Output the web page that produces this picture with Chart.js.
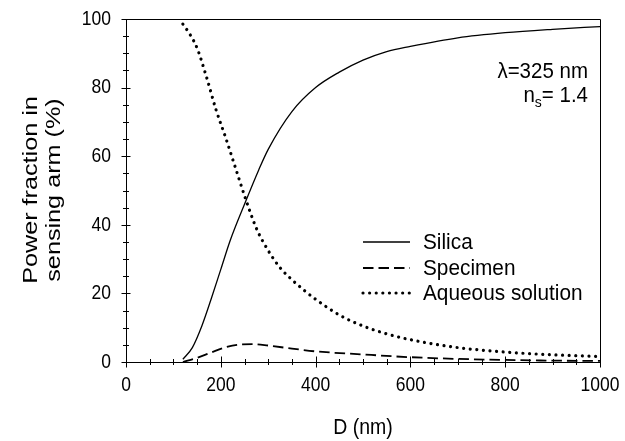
<!DOCTYPE html>
<html>
<head>
<meta charset="utf-8">
<script src="https://cdn.jsdelivr.net/npm/chart.js@4"></script>
<style>
  html, body { margin: 0; padding: 0; background: #fff; }
  #wrap { width: 625px; height: 441px; }
</style>
</head>
<body>
<div id="wrap"><canvas id="chart"></canvas></div>
<script>
// values
const silicaD = [120, 140, 160, 180, 200, 220, 250, 280, 300, 350, 400, 450, 500, 550, 600, 700, 800, 900, 1000];
const silicaP = [0.8, 4.2, 10.5, 18.5, 27, 35.5, 46, 56, 62, 73, 80, 84.5, 88, 90.5, 92, 94.5, 96, 97, 97.8];

const specimenD = [120, 150, 180, 210, 240, 270, 300, 350, 400, 500, 600, 700, 800, 900, 1000];
const specimenP = [0, 1.2, 2.8, 4.3, 5.1, 5.2, 4.8, 3.9, 3.1, 2.2, 1.4, 0.9, 0.6, 0.4, 0.3];

const aqueousD = [120, 135, 150, 170, 190, 210, 230, 250, 275, 300, 325, 350, 375, 400, 450, 500, 550, 600, 700, 800, 900, 1000];
const aqueousP = [98.5, 95.5, 91.5, 83, 73.5, 65.5, 57, 48.5, 39, 32.5, 27.5, 24, 21, 18.3, 13.7, 10.5, 8.2, 6.5, 4.2, 2.9, 2.1, 1.6];

const xTicks = [0, 200, 400, 600, 800, 1000];
const yTicks = [0, 20, 40, 60, 80, 100];
const seriesNames = ['Silica', 'Specimen', 'Aqueous solution'];

const FONT = "'Liberation Sans', Arial, sans-serif";
const pts = (xs, ys) => xs.map((x, i) => ({ x, y: ys[i] }));

// the source picture is a bit taller than wide, so text is stretched vertically
function tallText(ctx, text, x, y, size, align, sy) {
  ctx.save();
  ctx.translate(x, y);
  ctx.scale(1, sy);
  ctx.font = `${size}px ${FONT}`;
  ctx.textAlign = align;
  ctx.textBaseline = 'middle';
  ctx.fillText(text, 0, 0);
  ctx.restore();
}

// crossing ticks, frame, tick labels, legend, notes
const decor = {
  id: 'decor',
  afterDraw(chart) {
    const { ctx, chartArea: a, scales: { x, y } } = chart;
    ctx.save();
    ctx.strokeStyle = '#000';
    ctx.fillStyle = '#000';
    ctx.lineWidth = 1;
    ctx.beginPath();
    ctx.rect(a.left + 0.5, a.top + 0.5, a.right - a.left, a.bottom - a.top);
    ctx.stroke();

    ctx.beginPath();
    for (let v = 0; v <= 1000; v += 50) {
      const px = Math.round(x.getPixelForValue(v)) + 0.5;
      const len = v % 200 === 0 ? 5.5 : 3;
      ctx.moveTo(px, a.bottom - len);
      ctx.lineTo(px, a.bottom + len);
    }
    for (let v = 0; v <= 100; v += 5) {
      const py = Math.round(y.getPixelForValue(v)) + 0.5;
      const len = v % 20 === 0 ? 4.5 : 3;
      ctx.moveTo(a.left - len, py);
      ctx.lineTo(a.left + len, py);
    }
    ctx.stroke();

    xTicks.forEach(v => tallText(ctx, String(v), x.getPixelForValue(v), 385, 17.5, 'center', 1.2));
    yTicks.forEach(v => tallText(ctx, String(v), 111, y.getPixelForValue(v), 17.5, 'right', 1.2));

    // axis titles
    tallText(ctx, 'D (nm)', (a.left + a.right) / 2, 428, 19.5, 'center', 1.15);
    ctx.save();
    ctx.translate(31, 190);
    ctx.rotate(-Math.PI / 2);
    ctx.scale(1.2, 1);
    ctx.font = `21px ${FONT}`;
    ctx.textAlign = 'center';
    ctx.textBaseline = 'middle';
    ctx.fillText('Power fraction in', 0, 0);
    ctx.fillText('sensing arm (%)', 0, 23);
    ctx.restore();

    // legend
    const rows = [242, 268, 293];
    chart.data.datasets.forEach((ds, i) => {
      ctx.save();
      ctx.strokeStyle = ds.borderColor;
      ctx.lineWidth = ds.borderWidth;
      ctx.setLineDash(ds.borderDash || []);
      ctx.lineCap = ds.borderCapStyle || 'butt';
      ctx.beginPath();
      ctx.moveTo(363, rows[i]);
      ctx.lineTo(410, rows[i]);
      ctx.stroke();
      ctx.restore();
      tallText(ctx, ds.label, 423, rows[i] + 1, 20.8, 'left', 1.1);
    });

    // annotation
    tallText(ctx, '\u03bb=325 nm', 588, 72, 20.5, 'right', 1.1);
    const rest = '= 1.4';
    tallText(ctx, rest, 588, 96, 20.5, 'right', 1.1);
    ctx.font = `20.5px ${FONT}`;
    const wRest = ctx.measureText(rest).width;
    tallText(ctx, 's', 588 - wRest, 103, 14, 'right', 1.1);
    ctx.font = `14px ${FONT}`;
    const wS = ctx.measureText('s').width;
    tallText(ctx, 'n', 588 - wRest - wS, 96, 20.5, 'right', 1.1);
    ctx.restore();
  }
};

new Chart(document.getElementById('chart'), {
  type: 'scatter',
  data: {
    datasets: [
      {
        label: seriesNames[0],
        data: pts(silicaD, silicaP),
        showLine: true,
        borderColor: '#000',
        borderWidth: 1.3,
        pointRadius: 0,
        cubicInterpolationMode: 'monotone'
      },
      {
        label: seriesNames[1],
        data: pts(specimenD, specimenP),
        showLine: true,
        borderColor: '#000',
        borderWidth: 1.8,
        borderDash: [10.5, 5],
        pointRadius: 0,
        cubicInterpolationMode: 'monotone'
      },
      {
        label: seriesNames[2],
        data: pts(aqueousD, aqueousP),
        showLine: true,
        borderColor: '#000',
        borderWidth: 3.2,
        borderDash: [0.01, 6.6],
        borderCapStyle: 'round',
        pointRadius: 0,
        cubicInterpolationMode: 'monotone'
      }
    ]
  },
  options: {
    responsive: true,
    maintainAspectRatio: false,
    animation: false,
    layout: { padding: { top: 19, right: 25, left: 0, bottom: 0 } },
    plugins: { legend: { display: false }, tooltip: { enabled: false } },
    scales: {
      x: {
        type: 'linear',
        min: 0,
        max: 1000,
        afterFit: s => { s.height = 79; s.paddingLeft = 0; s.paddingRight = 0; },
        grid: { display: false, drawTicks: false },
        border: { display: false },
        ticks: { display: false }
      },
      y: {
        min: 0,
        max: 100,
        afterFit: s => { s.width = 126; s.paddingTop = 0; s.paddingBottom = 0; },
        grid: { display: false, drawTicks: false },
        border: { display: false },
        ticks: { display: false }
      }
    }
  },
  plugins: [decor]
});
</script>
</body>
</html>
